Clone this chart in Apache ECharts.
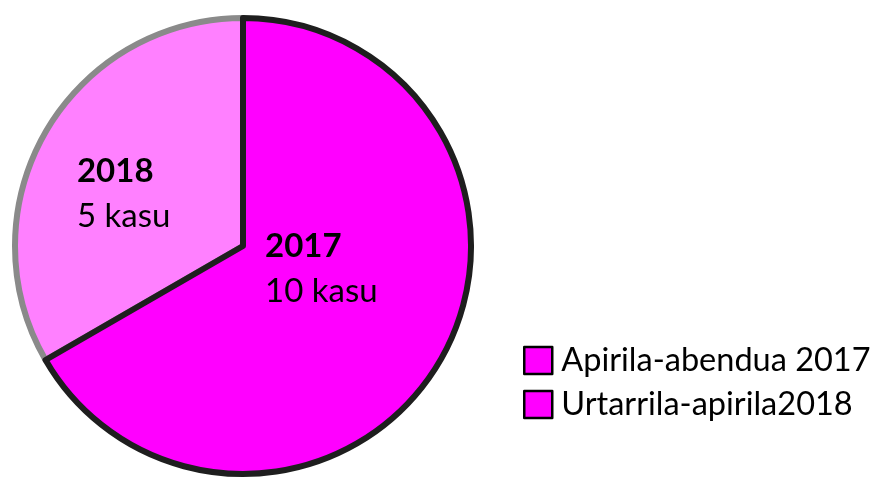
<!DOCTYPE html>
<html>
<head>
<meta charset="utf-8">
<script src="https://cdn.jsdelivr.net/npm/echarts@6/dist/echarts.min.js"></script>
<style>html,body{margin:0;padding:0;background:#fff}#c{width:871px;height:481px}</style>
</head>
<body>
<div id="c"></div>
<script>
const categories = ['Urtarrila-apirila2018', 'Apirila-abendua 2017'];
const shortLabels = ['2018', '2017'];
const values = [5, 10];
const unit = 'kasu';
const legendOrder = ['Apirila-abendua 2017', 'Urtarrila-apirila2018'];

const sliceColors = ['#ff80ff', '#ff00ff'];
const borderColors = ['#8a8a8a', '#1e1e1e'];
const labelOffsets = [[-18, 6], [-23, -36]];
const FONT = 'Lato, "Noto Sans", sans-serif';

const chart = echarts.init(document.getElementById('c'), null, {renderer: 'canvas'});
const data = categories.map((name, i) => ({
  name: name,
  value: values[i],
  itemStyle: {color: sliceColors[i], borderColor: borderColors[i], borderWidth: 6},
  label: {offset: labelOffsets[i]}
}));
chart.setOption({
  animation: false,
  legend: {
    orient: 'vertical',
    left: 523,
    top: 344,
    padding: 0,
    itemWidth: 28,
    itemHeight: 27,
    itemGap: 11,
    icon: 'rect',
    data: legendOrder.map(n => ({name: n, itemStyle: {color: '#ff00ff', borderColor: '#000', borderWidth: 2.5}})),
    textStyle: {fontFamily: FONT, fontSize: 32.5, color: '#000', lineHeight: 27, padding: [0, 0, 0, 4]}
  },
  series: [{
    type: 'pie',
    center: [243, 246],
    radius: [0, 228],
    startAngle: 90,
    clockwise: false,
    data: data,
    label: {
      show: true,
      position: 'inside',
      formatter: p => '{b|' + shortLabels[p.dataIndex] + '}\n{n|' + p.value + ' ' + unit + '}',
      rich: {
        b: {fontFamily: FONT, fontSize: 33, fontWeight: 'bold', color: '#000', lineHeight: 45, align: 'left'},
        n: {fontFamily: FONT, fontSize: 33, color: '#000', lineHeight: 45, align: 'left'}
      }
    },
    labelLine: {show: false},
    emphasis: {disabled: true}
  }]
});
</script>
</body>
</html>
